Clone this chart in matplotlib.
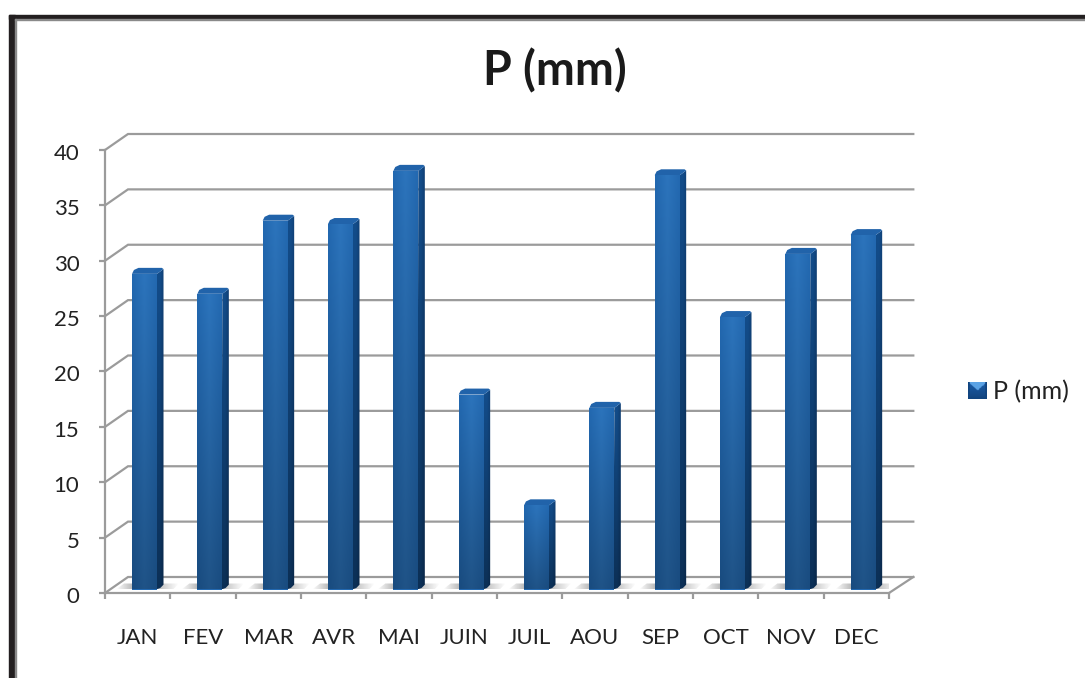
import matplotlib
matplotlib.use("Agg")
import matplotlib.pyplot as plt
import numpy as np
from matplotlib.patches import Polygon, Rectangle
from matplotlib.colors import LinearSegmentedColormap
from matplotlib.transforms import ScaledTranslation

plt.rcParams['font.family'] = ['Lato', 'DejaVu Sans']

months = ['JAN', 'FEV', 'MAR', 'AVR', 'MAI', 'JUIN', 'JUIL', 'AOU', 'SEP', 'OCT', 'NOV', 'DEC']
precip = [28.5, 26.7, 33.3, 33.0, 37.8, 17.6, 7.6, 16.4, 37.4, 24.6, 30.3, 32.0]
y_ticks = [0, 5, 10, 15, 20, 25, 30, 35, 40]

W, H = 1085, 678
GREY = '#9b9b9b'

# plot area in pixels of the picture, front plane of the 3d box
left, right, bottom, top = 105, 889, 593, 150
px_x = (right - left) / 12
px_y = (bottom - top) / 40

# depth of the box and of the bars, in data units
box_dx, box_dy = 23 / px_x, 16 / px_y
bar_w, bar_dx, bar_dy = 25 / px_x, 6.5 / px_x, 6 / px_y
bar_base = 3.5 / px_y


def gradient(ax, x0, x1, y0, y1, clip, c_left, c_mid, c_right, shade, z):
    # horizontal colour ramp, darkened towards the foot of the bar
    cmap = LinearSegmentedColormap.from_list('b', [c_left, c_mid, c_right])
    rgb = cmap(np.linspace(0, 1, 32))[:, :3]
    fade = np.linspace(1, shade, 64)
    img = rgb[None, :, :] * fade[:, None, None]
    im = ax.imshow(img, extent=[x0, x1, y0, y1], origin='upper', aspect='auto',
                   zorder=z, interpolation='bilinear')
    clip.set_transform(ax.transData)
    im.set_clip_path(clip)


def floor_shadow(ax, x0, x1, y0):
    # soft grey smear on the floor, strongest next to the bar
    sx0, sx1 = x0 - 16 / px_x, x1 + 22 / px_x
    xs = np.linspace(sx0, sx1, 80)
    alpha = np.clip(np.minimum((xs - sx0) / (x0 - sx0), (sx1 - xs) / (sx1 - x1)), 0, 1) * 0.6
    img = np.ones((1, 80, 4)) * 0.55
    img[..., 3] = alpha
    im = ax.imshow(img, extent=[sx0, sx1, y0, y0 + 6 / px_y], aspect='auto', zorder=2,
                   interpolation='bilinear')
    clip = Polygon([(sx0, y0), (sx1 - 6 / px_x, y0), (sx1, y0 + 6 / px_y), (sx0 + 8 / px_x, y0 + 6 / px_y)],
                   closed=True, transform=ax.transData)
    im.set_clip_path(clip)


fig = plt.figure(figsize=(W / 100, H / 100), dpi=100)
ax = fig.add_axes([left / W, 1 - bottom / H, (right - left) / W, (bottom - top) / H])

# outer frame of the picture
fig.add_artist(Rectangle((9 / W, 0), 6 / W, 1 - 15 / H, transform=fig.transFigure, color='#231f20'))
fig.add_artist(Rectangle((9 / W, 1 - 19 / H), 1 - 9 / W, 4 / H, transform=fig.transFigure, color='#231f20'))
fig.add_artist(Rectangle((15 / W, 0), 1.2 / W, 1 - 19 / H, transform=fig.transFigure, color='#8a8a8a'))
fig.add_artist(Rectangle((15 / W, 1 - 20 / H), 1 - 15 / W, 1.2 / H, transform=fig.transFigure, color='#8a8a8a'))

# gridlines, going back along the side wall and then along the back wall
for v in y_ticks:
    ax.plot([0, box_dx, 12 + box_dx + 0.02], [v, v + box_dy, v + box_dy], color=GREY, lw=1.6,
            clip_on=False, zorder=1, solid_joinstyle='miter')
ax.plot([12, 12 + box_dx + 0.02], [0, box_dy], color=GREY, lw=1.6, clip_on=False, zorder=1)

# bars
for i, val in enumerate(precip):
    x0 = i + 27 / px_x
    x1 = x0 + bar_w
    y0 = bar_base
    y1 = val + bar_base
    z = 3 + i * 0.01

    floor_shadow(ax, x0, x1, y0)

    # side face, foot and head cut round
    side_pts = [(x1 - 1 / px_x, y0), (x1 + bar_dx * 0.5, y0 + bar_dy * 0.25), (x1 + bar_dx, y0 + bar_dy * 0.8),
                (x1 + bar_dx, y1 + bar_dy * 0.8), (x1, y1)]
    gradient(ax, x1 - 1 / px_x, x1 + bar_dx, y0, y1 + bar_dy, Polygon(side_pts, closed=True),
             '#134d8b', '#134d8b', '#103f74', 0.62, z)

    # top face
    top_pts = [(x0, y1), (x1, y1), (x1 + bar_dx, y1 + bar_dy * 0.8), (x1 + bar_dx * 0.75, y1 + bar_dy),
               (x0 + bar_dx, y1 + bar_dy), (x0 + bar_dx * 0.3, y1 + bar_dy * 0.65)]
    ax.add_patch(Polygon(top_pts, closed=True, facecolor='#2163aa', edgecolor='none', clip_on=False, zorder=z))

    # front face drawn through the library's bar, then filled with the ramp
    rect = ax.bar(i + 0.5, val, width=bar_w, bottom=bar_base, color='#2268b0', clip_on=False, zorder=z)[0]
    rect.set_x(x0)
    gradient(ax, x0, x1, y0, y1, Polygon([(x0, y0), (x1, y0), (x1, y1), (x0, y1)], closed=True),
             '#2268b0', '#2c74bc', '#2369b1', 0.72, z + 0.001)

ax.set_xlim(0, 12)
ax.set_ylim(0, 40)

# axes
for s in ['top', 'right']:
    ax.spines[s].set_visible(False)
for s in ['left', 'bottom']:
    ax.spines[s].set_color(GREY)
    ax.spines[s].set_linewidth(1.6)
    ax.spines[s].set_zorder(5)
ax.patch.set_visible(False)

ax.set_yticks(y_ticks)
ax.set_yticklabels([str(v) for v in y_ticks], fontsize=16, color='#222222')
ax.tick_params(axis='y', length=4.5, width=1.6, color=GREY, pad=14)
# labels sit a little under their ticks in the reference
for lab in ax.get_yticklabels():
    lab.set_transform(lab.get_transform() + ScaledTranslation(0, -2 / 100, fig.dpi_scale_trans))

ax.set_xticks(range(13))
ax.set_xticklabels([''] * 13)
ax.set_xticks(np.arange(12) + 0.5, minor=True)
ax.set_xticklabels(months, minor=True, fontsize=16, color='#222222')
ax.tick_params(axis='x', which='major', length=4.5, width=1.6, color=GREY)
ax.tick_params(axis='x', which='minor', length=0, pad=25.5)

fig.text(555 / W, 1 - 71 / H, 'P (mm)', fontsize=33.5, fontweight='bold', color='#1a1a1a', ha='center', va='center')

# legend key and label
key = fig.add_axes([968 / W, 1 - 399 / H, 19 / W, 17 / H])
yy, xx = np.mgrid[0:1:32j, 0:1:32j]
key_col = np.zeros((32, 32, 3))
base = np.array([0.10, 0.36, 0.66])
light = np.array([0.36, 0.64, 0.90])
dark = np.array([0.07, 0.27, 0.50])
tri = (yy < 0.5) & (np.abs(xx - 0.5) < 0.5 - yy)
key_col[:] = base * (1 - 0.25 * yy[..., None])
key_col[tri] = light
side = (np.abs(xx - 0.5) > 0.42) | (yy > 0.88)
key_col[side] = dark
key.imshow(key_col, aspect='auto', interpolation='bilinear')
key.axis('off')

fig.text(993 / W, 1 - 392 / H, 'P (mm)', fontsize=18, color='#222222', ha='left', va='center')

fig.savefig('out.png', dpi=100)
